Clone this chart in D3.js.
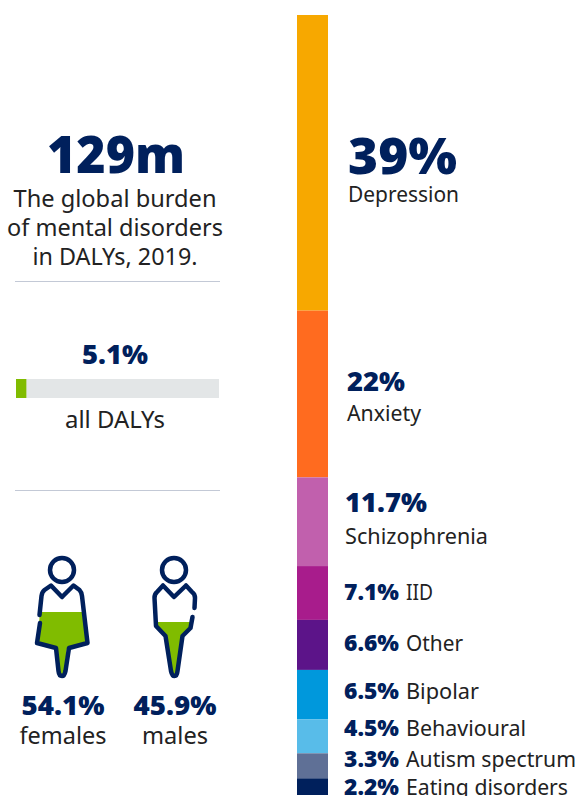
<!DOCTYPE html>
<html lang="en">
<head>
    <meta charset="UTF-8">
    <title>Global burden of mental disorders</title>
    <script src="https://d3js.org/d3.v7.min.js"></script>
    <style>
        body { margin: 0; background: #fff; }
        text { font-family: 'Noto Sans', sans-serif; fill: #222; }
        .num { font-weight: 900; fill: #00205c; }
    </style>
</head>
<body>
<script>
    const width  = 579;
    const height = 796;

    const categories = ["Depression", "Anxiety", "Schizophrenia", "IID", "Other", "Bipolar", "Behavioural", "Autism spectrum", "Eating disorders"];
    const shares     = [39, 22, 11.7, 7.1, 6.6, 6.5, 4.5, 3.3, 2.2];
    const colors     = ["#f7a800", "#ff6b1f", "#c160ad", "#a81c8c", "#5c1489", "#0098dc", "#58bce9", "#5f7096", "#00205c"];

    const genders      = ["females", "males"];
    const genderShares = [54.1, 45.9];
    const dalyShare    = 5.1;

    const navy = "#00205c", green = "#80bc00";

    const svg = d3.select("body").append("svg").attr("width", width).attr("height", height);

    // stacked column
    const total = d3.sum(shares);
    const y = d3.scaleLinear().domain([0, total]).range([15, 795]);
    const starts = d3.cumsum([0].concat(shares));

    svg.selectAll("rect.seg").data(shares).enter().append("rect")
        .attr("class", "seg")
        .attr("x", 297).attr("width", 31)
        .attr("y", (d, i) => y(starts[i]))
        .attr("height", d => y(d) - y(0))
        .attr("fill", (d, i) => colors[i]);

    function put(x, yy, str, size, cls, anchor, len) {
        const t = svg.append("text").attr("x", x).attr("y", yy)
            .attr("font-size", size).attr("text-anchor", anchor || "start").text(str);
        if (cls) t.attr("class", cls);
        if (len) t.attr("textLength", len).attr("lengthAdjust", "spacingAndGlyphs");
        return t;
    }

    // labels on the right
    put(348, 174, shares[0] + "%", 50, "num", "start", 109);
    put(348, 202, categories[0], 21, null, "start", 111);
    put(347, 391, shares[1] + "%", 27, "num", "start", 58);
    put(347, 421, categories[1], 21, null, "start", 74);
    put(345, 512, shares[2] + "%", 26, "num", "start", 82);
    put(345, 544, categories[2], 21, null, "start", 143);

    const rowY    = [null, null, null, 600, 651, 699, 736, 767, 795];
    const nameLen = [null, null, null, 27, 57, 73, 120, 170, 162];
    shares.forEach((d, i) => {
        if (i < 3) return;
        put(344, rowY[i], d + "%", 22, "num", "start", 55);
        put(406, rowY[i], categories[i], 21, null, "start", nameLen[i]);
    });

    // left panel
    put(116, 173, "129m", 51, "num", "middle", 138);
    put(115, 207, "The global burden", 24, null, "middle", 203);
    put(115, 236, "of mental disorders", 24, null, "middle", 216);
    put(115, 265, "in DALYs, 2019.", 24, null, "middle", 165);

    svg.selectAll("line.rule").data([281.5, 490.5]).enter().append("line")
        .attr("class", "rule")
        .attr("x1", 15).attr("x2", 220).attr("y1", d => d).attr("y2", d => d)
        .attr("stroke", "#c3c9d6").attr("stroke-width", 1);

    // share of all DALYs
    const xDaly = d3.scaleLinear().domain([0, 100]).range([16, 219]);
    put(115, 364, dalyShare + "%", 26, "num", "middle", 66);
    svg.append("rect").attr("x", xDaly(0)).attr("y", 379)
        .attr("width", xDaly(100) - xDaly(0)).attr("height", 19).attr("fill", "#e3e6e7");
    svg.append("rect").attr("x", xDaly(0)).attr("y", 379)
        .attr("width", xDaly(dalyShare) - xDaly(0)).attr("height", 19).attr("fill", green);
    put(115, 428, "all DALYs", 23, null, "middle", 100);

    // pictograms, outline drawn by hand, fill level from the scale
    const level = d3.scaleLinear().domain([0, 100]).range([677, 557]);
    const icons = [
        {
            cx: 62,
            fill: "M41 600L39 624L38 642L57 648L60 674L64 674L67 648L86 642L81 600Z",
            outline: "M39.5 615L41.5 596Q42 592 44.5 590L51 585.5L62 597L73.5 585.5L79.5 590Q81.5 592 82 596L87.5 643L69 648L65.5 671Q64.5 676 62 676Q59 676 58.5 671L56 648L37 643L40 623"
        },
        {
            cx: 174,
            fill: "M156 600L158 628L167 635L172 674L176 674L181 635L190 628L193 600Z",
            outline: "M194.5 608L195 598Q195 594 192 592L186 585.5L174 597L163 585.5L157 592Q154.5 594 154.5 598L156 626L165.5 636L171 671Q172 676 174.5 676Q177 676 177.5 671L182.5 636L190.5 628L192.5 617"
        }
    ];

    const defs = svg.append("defs");
    icons.forEach((ic, i) => {
        defs.append("clipPath").attr("id", "lvl" + i).append("rect")
            .attr("x", ic.cx - 40).attr("width", 80)
            .attr("y", level(genderShares[i]))
            .attr("height", level(0) - level(genderShares[i]));

        svg.append("path").attr("d", ic.fill).attr("fill", green).attr("clip-path", "url(#lvl" + i + ")");
        svg.append("path").attr("d", ic.outline).attr("fill", "none")
            .attr("stroke", navy).attr("stroke-width", 4.5)
            .attr("stroke-linejoin", "round").attr("stroke-linecap", "round");
        svg.append("circle").attr("cx", ic.cx).attr("cy", 570).attr("r", 12)
            .attr("fill", "none").attr("stroke", navy).attr("stroke-width", 4.5);

        put(ic.cx + 1, 715, genderShares[i] + "%", 27, "num", "middle", 83);
        put(ic.cx + 1, 744, genders[i], 23, null, "middle", i === 0 ? 87 : 66);
    });
</script>
</body>
</html>
